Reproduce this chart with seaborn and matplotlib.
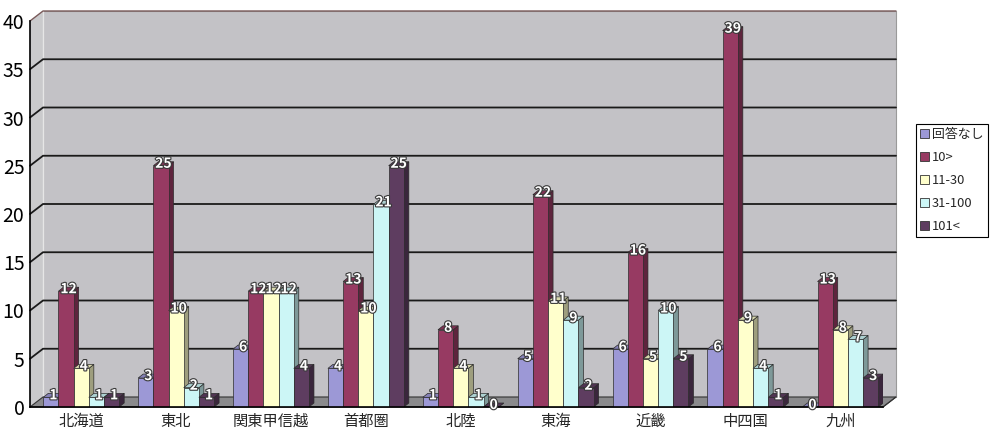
import matplotlib
matplotlib.use("Agg")
import matplotlib.pyplot as plt
import matplotlib.patheffects as pe
from matplotlib.patches import Polygon, Patch
from matplotlib import colors as mcolors
import numpy as np
import pandas as pd
import seaborn as sns

# Survey counts by region and size band
regions = ["北海道", "東北", "関東甲信越", "首都圏", "北陸", "東海", "近畿", "中四国", "九州"]
bands = ["回答なし", "10>", "11-30", "31-100", "101<"]
no_answer = [1, 3, 6, 4, 1, 5, 6, 6, 0]
under_10 = [12, 25, 12, 13, 8, 22, 16, 39, 13]
from_11_to_30 = [4, 10, 12, 10, 4, 11, 5, 9, 8]
from_31_to_100 = [1, 2, 12, 21, 1, 9, 10, 4, 7]
over_101 = [1, 1, 4, 25, 0, 2, 5, 1, 3]
yticks = [0, 5, 10, 15, 20, 25, 30, 35, 40]

band_colors = ["#9C98D6", "#973A62", "#FFFFCC", "#CCF6F6", "#5E3D60"]

series = [no_answer, under_10, from_11_to_30, from_31_to_100, over_101]
df = pd.DataFrame({
    "region": np.repeat([regions], len(bands), axis=0).ravel(),
    "band": np.repeat(bands, len(regions)),
    "value": np.concatenate(series),
})

sns.set_style("white")
plt.rcParams["font.family"] = ["Liberation Sans Narrow", "Noto Sans CJK JP", "DejaVu Sans"]

fig = plt.figure(figsize=(9.9, 4.28), dpi=100)
ax = fig.add_axes([30 / 990, 21 / 428, 853 / 990, 396 / 428])

sns.barplot(data=df, x="region", y="value", hue="band", order=regions,
            hue_order=bands, palette=band_colors, width=0.8, saturation=1,
            legend=False, ax=ax, edgecolor="#2b2b2b", linewidth=0.5)

xl, xr = -0.54, 8.45
ymax = 40
px_x = 853 / (xr - xl)        # pixels per x unit
px_y = 9.65                   # pixels per y unit
wdx, wdy = 13 / px_x, 10 / px_y   # back wall depth
bdx, bdy = 5 / px_x, 4 / px_y     # bar depth
ax.set_xlim(xl, xr)
ax.set_ylim(0, ymax + wdy)

# Back wall, side wall and floor
ax.add_patch(Polygon([(xl + wdx, wdy), (xr + wdx, wdy), (xr + wdx, ymax + wdy), (xl + wdx, ymax + wdy)],
                     closed=True, facecolor="#C3C2C6", edgecolor="#9a9a9a", lw=0.8,
                     zorder=0.2, clip_on=False))
ax.add_patch(Polygon([(xl, 0), (xl + wdx, wdy), (xl + wdx, ymax + wdy), (xl, ymax)],
                     closed=True, facecolor="#CACACC", edgecolor="none", zorder=0.3, clip_on=False))
ax.add_patch(Polygon([(xl, 0), (xr, 0), (xr + wdx, wdy), (xl + wdx, wdy)],
                     closed=True, facecolor="#8A8A8C", edgecolor="#333333", lw=0.8,
                     zorder=0.4, clip_on=False))
ax.plot([xl + wdx, xl + wdx], [wdy, ymax + wdy], color="#e6e6e6", lw=1, zorder=0.35, clip_on=False)

for v in yticks[1:]:
    c = "#1a1a1a" if v < ymax else "#7a5a5a"
    ax.plot([xl, xl + wdx, xr + wdx], [v, v + wdy, v + wdy], color=c,
            lw=1.3 if v < ymax else 1.0, zorder=0.5, clip_on=False)

# 3D faces on each bar, plus value labels
for k, cont in enumerate(ax.containers):
    base = np.array(mcolors.to_rgb(band_colors[k]))
    side = base * 0.62
    top = np.clip(base * 0.85, 0, 1)
    for bar in cont:
        x0, w, h = bar.get_x(), bar.get_width(), bar.get_height()
        z = 2 + k * 0.1
        bar.set_zorder(z + 0.05)
        ax.add_patch(Polygon([(x0 + w, 0), (x0 + w + bdx, bdy), (x0 + w + bdx, h + bdy), (x0 + w, h)],
                             closed=True, facecolor=side, edgecolor="#2b2b2b", lw=0.5, zorder=z))
        ax.add_patch(Polygon([(x0, h), (x0 + bdx, h + bdy), (x0 + w + bdx, h + bdy), (x0 + w, h)],
                             closed=True, facecolor=top, edgecolor="#2b2b2b", lw=0.5, zorder=z))
        ax.text(x0 + w / 2 + bdx / 2, h + bdy / 2, f"{int(h)}", ha="center", va="center",
                fontsize=10, color="white", fontweight="bold", zorder=10,
                path_effects=[pe.withStroke(linewidth=1.6, foreground="#3a3a3a")])

# Axes lines and ticks
sns.despine(ax=ax, top=True, right=True)
ax.spines["left"].set_bounds(0, ymax)
ax.spines["left"].set_color("black")
ax.spines["bottom"].set_color("black")
ax.spines["left"].set_linewidth(1.2)
ax.spines["bottom"].set_linewidth(1.2)
ax.plot([xr, xr + wdx], [0, wdy], color="#333333", lw=0.8, clip_on=False, zorder=0.6)

ax.set_yticks(yticks)
ax.set_yticklabels([str(t) for t in yticks], fontsize=14)
ax.tick_params(axis="y", direction="out", length=3, width=1, pad=1, colors="black")
ax.set_xticks(range(len(regions)))
ax.set_xticklabels(regions, fontsize=11, family=["Noto Sans CJK JP", "DejaVu Sans"])
ax.tick_params(axis="x", length=0, pad=4)
ax.set_xticks(np.arange(0.5, len(regions) - 1, 1.0), minor=True)
ax.tick_params(axis="x", which="minor", direction="out", length=4, width=1, colors="black")
ax.set_xlabel("")
ax.set_ylabel("")
ax.grid(False)
ax.set_facecolor("none")

handles = [Patch(facecolor=c, edgecolor="#333333", lw=0.6) for c in band_colors]
leg = fig.legend(handles, bands, loc="upper left", bbox_to_anchor=(916 / 990, 1 - 124 / 428),
                 bbox_transform=fig.transFigure, frameon=True, fancybox=False,
                 edgecolor="black", framealpha=1, handlelength=0.7,
                 handleheight=0.7, handletextpad=0.25, labelspacing=0.78, borderpad=0.3,
                 borderaxespad=0, prop={"family": ["Noto Sans CJK JP", "DejaVu Sans"], "size": 9.3})
leg.get_frame().set_linewidth(0.8)

fig.savefig("out.png", dpi=100, facecolor="white")
